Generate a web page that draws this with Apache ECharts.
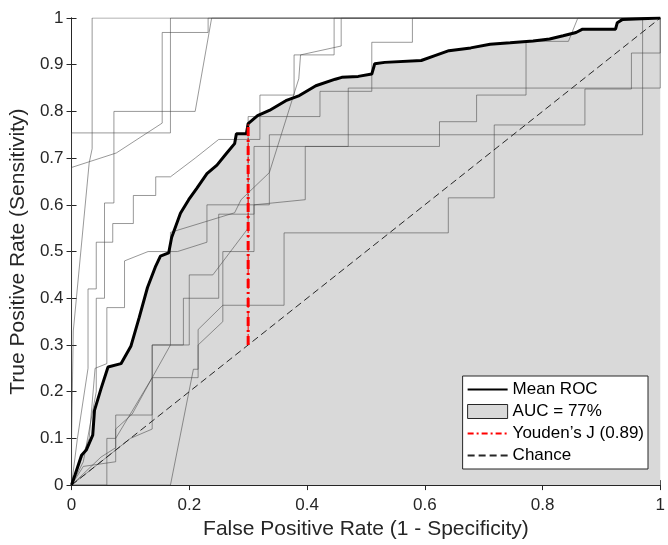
<!DOCTYPE html>
<html>
<head>
<meta charset="utf-8">
<script src="https://cdn.jsdelivr.net/npm/echarts@6/dist/echarts.min.js"></script>
<style>
  html, body { margin: 0; padding: 0; background: #fff; }
  #chart { width: 668px; height: 545px; }
</style>
</head>
<body>
<div id="chart"></div>
<script>
// mean ROC (false positive rate / true positive rate)
const meanFpr = [0, 0.006, 0.017, 0.025, 0.036, 0.039, 0.050, 0.062, 0.084, 0.101, 0.115, 0.129, 0.143, 0.151, 0.165, 0.170,
  0.185, 0.199, 0.213, 0.230, 0.247, 0.263, 0.277, 0.280, 0.297, 0.300, 0.316, 0.336, 0.364, 0.387, 0.415, 0.448, 0.459,
  0.487, 0.510, 0.515, 0.532, 0.594, 0.616, 0.641, 0.678, 0.711, 0.745, 0.784, 0.812, 0.835, 0.857, 0.868, 0.924, 0.927,
  0.936, 0.938, 1]
const meanTpr = [0, 0.022, 0.064, 0.075, 0.107, 0.160, 0.206, 0.253, 0.260, 0.298, 0.359, 0.423, 0.469, 0.490, 0.497, 0.530,
  0.582, 0.611, 0.636, 0.667, 0.685, 0.710, 0.731, 0.752, 0.752, 0.774, 0.791, 0.802, 0.823, 0.834, 0.855, 0.869, 0.873,
  0.875, 0.880, 0.902, 0.905, 0.909, 0.919, 0.930, 0.936, 0.944, 0.947, 0.951, 0.955, 0.962, 0.969, 0.976, 0.976, 0.990,
  0.997, 1, 1]

// per-fold ROC curves, [fpr, tpr]
const fold1 = [[0, 0], [0, 0.1], [0.003, 0.33], [0.03, 0.69], [0.035, 0.72], [0.035, 1], [1, 1]]
const fold2 = [[0, 0], [0, 0.68], [0.076, 0.711], [0.154, 0.775], [0.154, 0.969], [0.232, 0.969], [0.232, 1], [1, 1]]
const fold3 = [[0, 0], [0, 0.754], [0.168, 0.754], [0.168, 1], [1, 1]]
const fold4 = [[0, 0], [0.02, 0.05], [0.042, 0.2], [0.042, 0.40], [0.056, 0.40], [0.056, 0.604], [0.072, 0.604],
  [0.072, 0.80], [0.21, 0.80], [0.238, 1], [1, 1]]
const fold5 = [[0, 0], [0.01, 0.1], [0.028, 0.25], [0.028, 0.42], [0.042, 0.42], [0.042, 0.52], [0.07, 0.52], [0.07, 0.56],
  [0.105, 0.56], [0.105, 0.62], [0.143, 0.62], [0.143, 0.66], [0.168, 0.66], [0.21, 0.70], [0.25, 0.74], [0.32, 0.74],
  [0.32, 0.835], [0.378, 0.835], [0.378, 0.921], [0.446, 0.921], [0.446, 1], [1, 1]]
const fold6 = [[0, 0], [0.05, 0.06], [0.075, 0.08], [0.075, 0.12], [0.103, 0.152], [0.137, 0.23], [0.168, 0.3],
  [0.168, 0.541], [0.277, 0.583], [0.288, 0.611], [0.336, 0.669], [0.386, 0.87], [0.389, 0.921], [0.458, 0.94],
  [0.458, 1], [1, 1]]
const fold7 = [[0, 0], [0.168, 0], [0.207, 0.248], [0.215, 0.248], [0.215, 0.333], [0.257, 0.385], [0.361, 0.385],
  [0.361, 0.54], [0.64, 0.54], [0.64, 0.615], [0.718, 0.615], [0.718, 0.771], [0.872, 0.771], [0.872, 0.848],
  [0.951, 0.848], [0.951, 0.925], [1, 0.925], [1, 1]]
const fold8 = [[0, 0], [0.06, 0], [0.06, 0.1], [0.075, 0.1], [0.137, 0.23], [0.215, 0.23], [0.215, 0.30], [0.257, 0.35],
  [0.257, 0.5], [0.31, 0.5], [0.31, 0.6], [0.397, 0.611], [0.397, 0.725], [0.47, 0.725], [0.47, 0.85], [1, 0.85], [1, 1]]
const fold9 = [[0, 0], [0.02, 0.04], [0.075, 0.05], [0.075, 0.15], [0.137, 0.15], [0.137, 0.30], [0.19, 0.30],
  [0.19, 0.40], [0.25, 0.40], [0.25, 0.58], [0.31, 0.58], [0.31, 0.725], [0.625, 0.725], [0.625, 0.778], [0.688, 0.778],
  [0.688, 0.835], [0.772, 0.835], [0.772, 0.95], [0.844, 0.95], [0.86, 1], [1, 1]]
const fold10 = [[0, 0], [0.1, 0.1], [0.137, 0.12], [0.137, 0.3], [0.2, 0.3], [0.2, 0.45], [0.24, 0.45], [0.3, 0.55],
  [0.3, 0.6], [0.336, 0.6], [0.336, 0.75], [0.97, 0.75], [0.97, 1], [1, 1]]
const fold11 = [[0, 0], [0.03, 0.1], [0.04, 0.25], [0.06, 0.26], [0.06, 0.38], [0.09, 0.38], [0.09, 0.48], [0.13, 0.5],
  [0.18, 0.5], [0.23, 0.52], [0.23, 0.6], [0.3, 0.6], [0.3, 0.789], [0.422, 0.789], [0.422, 0.843], [0.51, 0.843],
  [0.51, 0.948], [0.579, 0.948], [0.579, 1], [1, 1]]
const folds = [fold1, fold2, fold3, fold4, fold5, fold6, fold7, fold8, fold9, fold10, fold11]

const youdenX = [0.3, 0.3]
const youdenY = [0.3, 0.774]
const chanceX = [0, 1]
const chanceY = [0, 1]

const legendNames = ['Mean ROC', 'AUC = 77%', 'Youden\u2019s J (0.89)', 'Chance']

const font = '"Liberation Sans", Arial, sans-serif'
const ink = '#262626'
const red = '#ff0000'
const zip = (xs, ys) => xs.map((x, i) => [x, ys[i]])
const fmt = v => String(+v.toFixed(1))

const chart = echarts.init(document.getElementById('chart'))

const foldSeries = folds.map(f => ({
  type: 'line',
  data: f,
  symbol: 'none',
  silent: true,
  z: 3,
  lineStyle: { color: 'rgba(70,70,70,0.55)', width: 1 }
}))

// legend entries for lines: no marker dot, only the line sample
const noDot = { opacity: 0 }

const option = {
  animation: false,
  textStyle: { fontFamily: font },
  grid: { left: 70, right: 2, top: 18, bottom: 59 },
  legend: {
    orient: 'vertical',
    right: 20,
    bottom: 76,
    backgroundColor: '#fff',
    borderColor: ink,
    borderWidth: 1,
    borderRadius: 0,
    padding: [5, 4, 5, 4],
    itemWidth: 40,
    itemHeight: 14,
    itemGap: 5,
    textStyle: { fontFamily: font, fontSize: 17, color: '#000' },
    data: [
      { name: legendNames[0], itemStyle: noDot },
      { name: legendNames[1], icon: 'rect', itemStyle: { color: '#d9d9d9', borderColor: ink, borderWidth: 1 } },
      { name: legendNames[2], itemStyle: noDot },
      { name: legendNames[3], itemStyle: noDot }
    ]
  },
  xAxis: [
    {
      type: 'value', min: 0, max: 1, interval: 0.2,
      name: 'False Positive Rate (1 - Specificity)',
      nameLocation: 'middle', nameGap: 32,
      nameTextStyle: { fontFamily: font, fontSize: 21, color: ink },
      axisLine: { lineStyle: { color: ink, width: 1 } },
      axisTick: { inside: true, length: 5, lineStyle: { color: ink } },
      axisLabel: { fontFamily: font, fontSize: 17, color: ink, margin: 12, formatter: fmt },
      splitLine: { show: false }
    },
    {
      type: 'value', min: 0, max: 1, interval: 0.2, position: 'top',
      axisLine: { lineStyle: { color: ink, width: 1 } },
      axisTick: { inside: true, length: 5, lineStyle: { color: ink } },
      axisLabel: { show: false },
      splitLine: { show: false }
    }
  ],
  yAxis: [
    {
      type: 'value', min: 0, max: 1, interval: 0.1,
      name: 'True Positive Rate (Sensitivity)',
      nameLocation: 'middle', nameGap: 38,
      nameTextStyle: { fontFamily: font, fontSize: 21, color: ink },
      axisLine: { show: true, lineStyle: { color: ink, width: 1 } },
      axisTick: { show: true, inside: true, length: 5, lineStyle: { color: ink } },
      axisLabel: { fontFamily: font, fontSize: 17, color: ink, margin: 8, formatter: fmt },
      splitLine: { show: false }
    },
    {
      type: 'value', min: 0, max: 1, interval: 0.1, position: 'right',
      axisLine: { show: true, lineStyle: { color: ink, width: 1 } },
      axisTick: { show: true, inside: true, length: 5, lineStyle: { color: ink } },
      axisLabel: { show: false },
      splitLine: { show: false }
    }
  ],
  series: [
    {
      name: legendNames[1],
      type: 'line',
      data: zip(meanFpr, meanTpr),
      symbol: 'none',
      silent: true,
      z: 1,
      color: '#d9d9d9',
      lineStyle: { width: 0, opacity: 0 },
      areaStyle: { color: '#d9d9d9', opacity: 1 }
    },
    ...foldSeries,
    {
      name: legendNames[3],
      type: 'line',
      data: zip(chanceX, chanceY),
      symbol: 'none',
      z: 4,
      color: ink,
      lineStyle: { color: ink, width: 1, type: [7, 4] }
    },
    {
      name: legendNames[0],
      type: 'line',
      data: zip(meanFpr, meanTpr),
      symbol: 'none',
      z: 5,
      color: '#000',
      lineStyle: { color: '#000', width: 3 }
    },
    {
      // thick Youden marker drawn in the plot (no legend entry)
      type: 'line',
      data: zip(youdenX, youdenY),
      symbol: 'none',
      silent: true,
      z: 6,
      lineStyle: { color: red, width: 3, type: [9, 4, 2, 4] }
    },
    {
      // thin twin that provides the legend sample
      name: legendNames[2],
      type: 'line',
      data: zip(youdenX, youdenY),
      symbol: 'none',
      z: 6,
      color: red,
      lineStyle: { color: red, width: 1, type: [6, 3, 2, 3] }
    }
  ]
}

chart.setOption(option)
</script>
</body>
</html>
